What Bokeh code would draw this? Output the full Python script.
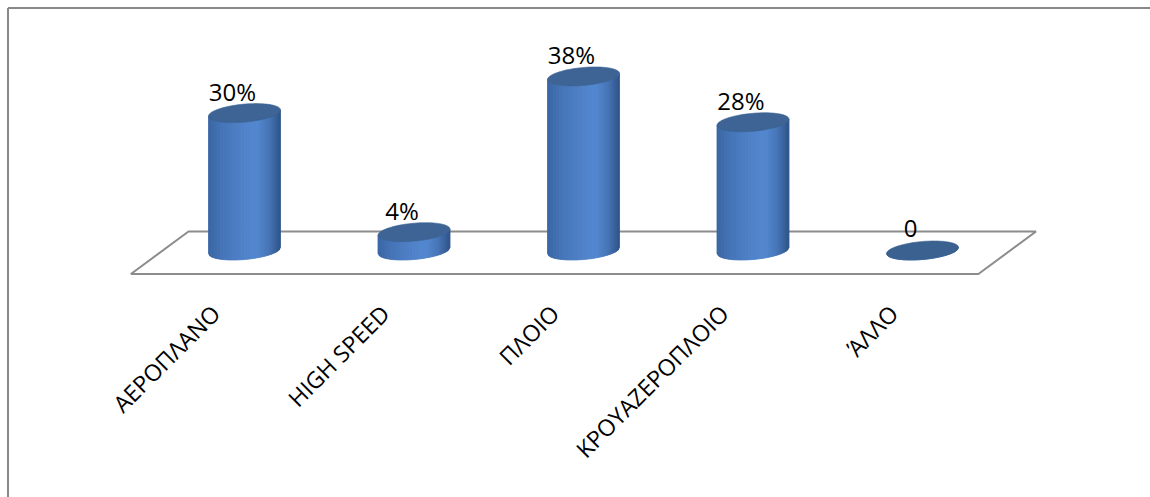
import numpy as np
from bokeh.plotting import figure
from bokeh.models import Range1d, ColumnDataSource
from bokeh.core.properties import value
from bokeh.embed import file_html
from bokeh.resources import INLINE

# ---------------- data ----------------
categories = ["ΑΕΡΟΠΛΑΝΟ", "HIGH SPEED", "ΠΛΟΙΟ", "ΚΡΟΥΑΖΕΡΟΠΛΟΙΟ", "ΆΛΛΟ"]
values = [30, 4, 38, 28, 0]
value_labels = ["30%", "4%", "38%", "28%", "0"]

# ---------------- layout (screen pixels) ----------------
W, H = 1150, 497
X0_PX = 244.0        # pixel centre of first category
STEP_PX = 169.5      # pixels between categories
BASE_PX = 250.0      # pixel row of value 0
PX_PER_PCT = 4.58    # pixels per percentage point

ux = 1.0 / STEP_PX       # one pixel in category units
uy = 1.0 / PX_PER_PCT    # one pixel in value units

x_range = Range1d((0 - X0_PX) / STEP_PX, (W - X0_PX) / STEP_PX)
y_range = Range1d((BASE_PX - H) / PX_PER_PCT, BASE_PX / PX_PER_PCT)

p = figure(width=W, height=H, x_range=x_range, y_range=y_range,
           output_backend="svg", toolbar_location=None,
           x_axis_type=None, y_axis_type=None,
           min_border=0, min_border_left=0, min_border_right=0,
           min_border_top=0, min_border_bottom=0,
           outline_line_color=None, background_fill_color="white",
           border_fill_color="white")
p.grid.visible = False

# ---------------- outer frame (top and left edges only) ----------------
frame_col = "#888888"
top_y = (BASE_PX - 7.5) * uy
left_x = x_range.start + 7.5 * ux
p.segment(x0=[left_x, left_x], y0=[top_y, top_y],
          x1=[x_range.end, left_x], y1=[top_y, y_range.start],
          line_color=frame_col, line_width=2)

# ---------------- floor ----------------
n = len(categories)
c = (n - 1) / 2.0 + 3 * ux
half = n / 2.0
SKEW = 1.355          # horizontal pixel shift per pixel of depth
back_px, front_px = 19.0, -23.5
floor_x = [c - half + back_px * SKEW * ux, c + half + back_px * SKEW * ux,
           c + half + front_px * SKEW * ux, c - half + front_px * SKEW * ux]
floor_y = [back_px * uy, back_px * uy, front_px * uy, front_px * uy]
p.patch(floor_x, floor_y, fill_color="white", line_color="#8c8c8c", line_width=2)

# ---------------- cylinders ----------------
a = 36 * ux            # half width
b = 9 * uy             # half height of ellipse
k = 0.085 * uy / ux    # tilt (value units per category unit)

stops_u = [-1.0, -0.6, 0.0, 0.35, 0.7, 1.0]
stops_c = [(58, 102, 163), (70, 117, 184), (81, 131, 202),
           (83, 136, 208), (70, 116, 181), (47, 84, 138)]


def shade(u):
    r = np.interp(u, stops_u, [s[0] for s in stops_c])
    g = np.interp(u, stops_u, [s[1] for s in stops_c])
    bl = np.interp(u, stops_u, [s[2] for s in stops_c])
    return "#%02x%02x%02x" % (int(r), int(g), int(bl))


NS = 48
xs, ys, cols = [], [], []
for i, v in enumerate(values):
    for j in range(NS):
        u0 = -1 + 2.0 * j / NS
        u1 = -1 + 2.0 * (j + 1) / NS
        bot0 = -b * np.sqrt(max(0.0, 1 - u0 ** 2)) + k * a * u0
        bot1 = -b * np.sqrt(max(0.0, 1 - u1 ** 2)) + k * a * u1
        top0 = v + k * a * u0
        top1 = v + k * a * u1
        xs.append([i + a * u0, i + a * u1, i + a * u1, i + a * u0])
        ys.append([bot0, bot1, top1, top0])
        cols.append(shade((u0 + u1) / 2))
side_src = ColumnDataSource(dict(xs=xs, ys=ys, c=cols))
p.patches("xs", "ys", source=side_src, fill_color="c", line_color="c", line_width=0.8)

t = np.linspace(0, 2 * np.pi, 90)
ex, ey, ec = [], [], []
for i, v in enumerate(values):
    ex.append(list(i + a * np.cos(t)))
    ey.append(list(v + b * np.sin(t) + k * a * np.cos(t)))
    ec.append("#3d6494" if v > 0 else "#3b6190")
top_src = ColumnDataSource(dict(xs=ex, ys=ey, c=ec))
p.patches("xs", "ys", source=top_src, fill_color="c", line_color="c", line_width=0.6)

# ---------------- value labels ----------------
idx = list(range(n))
p.text(x=[i - 12 * ux for i in idx], y=[v + 22 * uy for v in values],
       text=value_labels, text_align="center", text_baseline="alphabetic",
       text_font=value("Open Sans"), text_font_size="24px", text_color="black")

# ---------------- category labels ----------------
p.text(x=[i - 29 * ux for i in idx], y=[-58.5 * uy] * n, text=categories,
       angle=np.pi / 4, text_align="right", text_baseline="middle",
       text_font=value("Open Sans"), text_font_size="23px", text_color="black")

open("out.html", "w").write(file_html(p, INLINE))
